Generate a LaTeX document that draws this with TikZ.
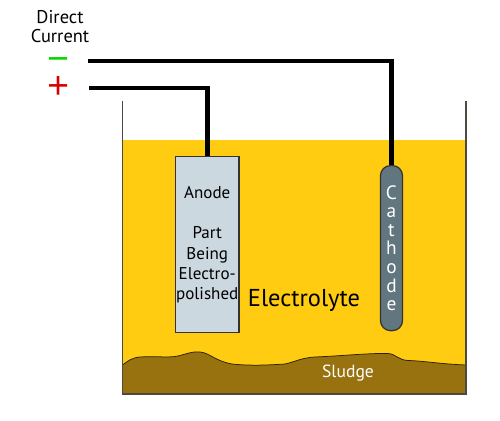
\documentclass[tikz,border=0pt]{standalone}
\usepackage{fontspec}
\setmainfont{PT Sans}
\newfontfamily\signfont{Open Sans}
\usepackage{xcolor}
\usetikzlibrary{positioning}
\definecolor{bathyellow}{HTML}{FFCC12}
\definecolor{sludgebrown}{HTML}{98720F}
\definecolor{anodeblue}{HTML}{CBD8E0}
\definecolor{cathodegrey}{HTML}{61767E}
\definecolor{tankgrey}{HTML}{4A4A40}

\begin{document}
\begin{tikzpicture}[
    x=0.2mm, y=-0.2mm,
    wire/.style={line width=0.9mm, black},
    electrode/.style={rectangle, draw=black!80, line width=0.25mm, inner sep=0pt, align=center},
    sign/.style={inner sep=0pt, font=\signfont\fontsize{22}{22}\selectfont}
]
\useasboundingbox (0,0) rectangle (500,421);

% Bath and sludge
\fill[bathyellow] (122.5,140) rectangle (466,394);
\draw[fill=sludgebrown, draw=black!70!sludgebrown, line width=0.15mm]
    (122.5,365) .. controls (128,361) and (131,358) .. (140,357)
    .. controls (155,356) and (170,358) .. (178,356)
    .. controls (186,354) and (194,351) .. (200,352)
    .. controls (210,353) and (215,361) .. (232,364)
    .. controls (250,366) and (270,365) .. (285,364)
    .. controls (295,362) and (300,358) .. (315,357)
    .. controls (340,356) and (370,353) .. (388,353.5)
    .. controls (396,354) and (398,360) .. (408,360.5)
    .. controls (425,361) and (440,364) .. (466,365)
    -- (466,394) -- (122.5,394) -- cycle;

% Tank
\draw[tankgrey, line width=0.25mm] (122.5,101) -- (122.5,394) -- (466,394) -- (466,101);

% Electrodes
\node[electrode, fill=anodeblue, minimum width=12.7mm, minimum height=35.2mm, anchor=north,
      font=\fontsize{9.7}{11.6}\selectfont] (anode) at (207.25,156) {Anode\\[11.6pt]Part\\Being\\Electro-\\polished};
\node[electrode, fill=cathodegrey, text=white, rounded corners=2mm, minimum width=4.4mm, minimum height=33mm, anchor=north,
      font=\fontsize{11}{10.6}\selectfont] (cathode) at (391.5,165) {C\\a\\t\\h\\o\\d\\e};

% Terminals
\node[inner sep=0pt, align=center, font=\fontsize{10.5}{10.8}\selectfont] (supply) at (60,27) {Direct\\Current};
\node[sign, text=green!85!black] (minus) at (58.5,65.5) {−};
\node[sign, text=red!85!black] (plus) at (59,88) {+};
\coordinate (minusend) at (88,61);
\coordinate (plusend) at (89,88);

\draw[wire] (minusend) -| (cathode.north);
\draw[wire] (plusend) -| (anode.north);

% Labels
\node[inner sep=0pt, font=\fontsize{13.9}{16}\selectfont, right=1.6mm of anode.east, yshift=-11.2mm] (electrolyte) {Electrolyte};
\node[inner sep=0pt, text=white, font=\fontsize{10}{12}\selectfont] (sludge) at (348,373) {Sludge};

\end{tikzpicture}
\end{document}
